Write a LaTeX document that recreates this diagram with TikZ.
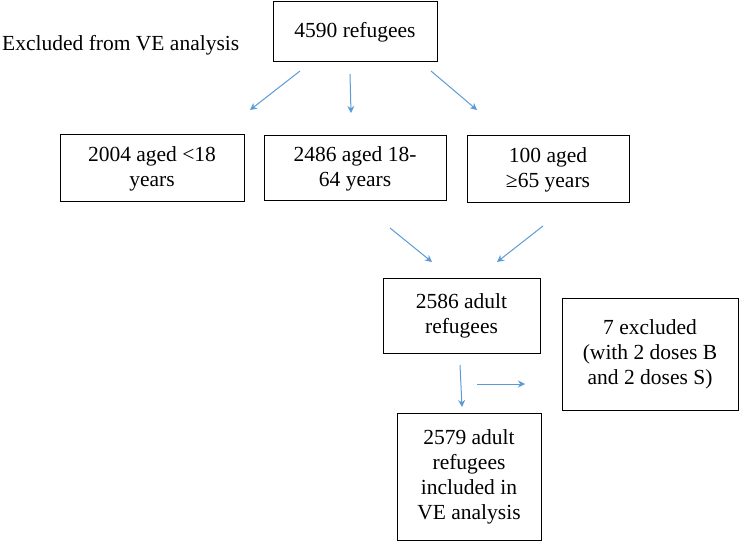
\documentclass[tikz,border=0pt]{standalone}
\usepackage{fontspec}
\setmainfont{Liberation Serif}
\usetikzlibrary{arrows.meta}
\definecolor{arr}{RGB}{91,155,213}
\begin{document}
\begin{tikzpicture}[x=1pt,y=-1pt,
  box/.style={draw,line width=1pt,font=\fontsize{21.5}{25}\selectfont,align=center,inner sep=0pt},
  ar/.style={draw=arr,line width=1pt,-{Stealth[length=7pt,width=7pt]}}]
\useasboundingbox (0,0) rectangle (744,548);
\node[box,minimum width=164,minimum height=60] (top) at (355,32) {4590 refugees};
\node[anchor=west,font=\fontsize{21.5}{25}\selectfont,inner sep=0pt] (exc) at (2,45) {Excluded from VE analysis};
\node[box,minimum width=184,minimum height=67] (a) at (152,168.5) {2004 aged <18\\years};
\node[box,minimum width=182,minimum height=65] (b) at (355,168.5) {2486 aged 18-\\64 years};
\node[box,minimum width=162,minimum height=67] (c) at (548,169.5) {100 aged\\≥65 years};
\node[box,minimum width=157,minimum height=75] (d) at (461.5,315.5) {2586 adult\\refugees};
\node[box,minimum width=176,minimum height=112] (e) at (650,354) {7 excluded\\(with 2 doses B\\and 2 doses S)};
\node[box,minimum width=144,minimum height=127] (f) at (469,476.5) {2579 adult\\refugees\\included in\\VE analysis};
\coordinate (t1) at (300,71); \coordinate (a1) at (250,110);
\coordinate (t2) at (350,74); \coordinate (b1) at (351,113);
\coordinate (t3) at (431,71); \coordinate (c1) at (477,110);
\coordinate (b2) at (390,228); \coordinate (d1) at (432,262);
\coordinate (c2) at (543,226); \coordinate (d2) at (497,262);
\coordinate (d3) at (460,365); \coordinate (f1) at (462,407);
\coordinate (r1) at (477,384); \coordinate (e1) at (525,384);
\draw[ar] (t1) -- (a1);
\draw[ar] (t2) -- (b1);
\draw[ar] (t3) -- (c1);
\draw[ar] (b2) -- (d1);
\draw[ar] (c2) -- (d2);
\draw[ar] (d3) -- (f1);
\draw[ar] (r1) -- (e1);
\end{tikzpicture}
\end{document}
